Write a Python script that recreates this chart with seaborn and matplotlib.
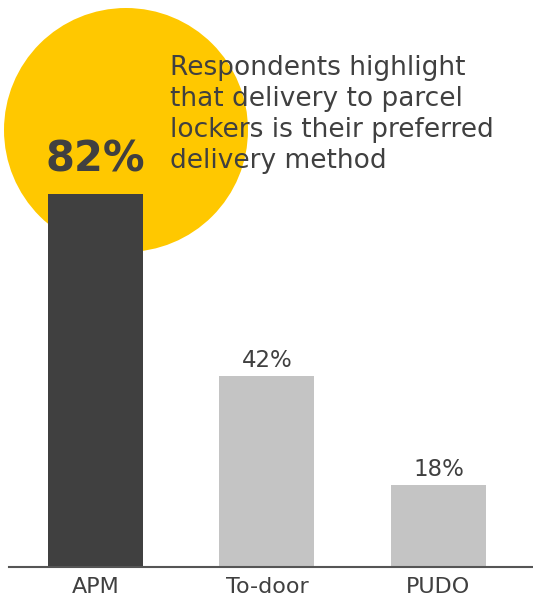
import matplotlib
matplotlib.use("Agg")
import matplotlib.pyplot as plt
from matplotlib.patches import Circle
import seaborn as sns
import pandas as pd

methods = ["APM", "To-door", "PUDO"]
shares = [82, 42, 18]
bar_colors = ["#404040", "#c4c4c4", "#c4c4c4"]
headline = "Respondents highlight\nthat delivery to parcel\nlockers is their preferred\ndelivery method"

sns.set_theme(style="white")
plt.rcParams["font.family"] = ["DejaVu Sans"]
TEXT = "#404040"

df = pd.DataFrame({"method": methods, "share": shares})

fig = plt.figure(figsize=(5.33, 5.96), dpi=100)
ax = fig.add_axes([9 / 533, 29 / 596, 524 / 533, 567 / 596])

# Yellow highlight disc behind the leading bar
disc = Circle((1.26, (596 - 130) / 100), 1.22, transform=fig.dpi_scale_trans,
              facecolor="#ffc800", edgecolor="none", zorder=0, clip_on=False)
ax.add_patch(disc)

sns.barplot(data=df, x="method", y="share", hue="method",
            palette=dict(zip(methods, bar_colors)), legend=False,
            width=0.554, saturation=1, linewidth=0, edgecolor="none",
            ax=ax, zorder=2)

ax.set_xlim(-0.504, 2.551)
ax.set_ylim(0, 124.6)
ax.set_xlabel("")
ax.set_ylabel("")
ax.set_yticks([])
ax.tick_params(axis="x", length=0, pad=7, labelsize=16, labelcolor=TEXT)
for side in ["top", "right", "left"]:
    ax.spines[side].set_visible(False)
ax.spines["bottom"].set_color("#555555")
ax.spines["bottom"].set_linewidth(1.5)
ax.patch.set_alpha(0)

for i, (m, v) in enumerate(zip(methods, shares)):
    if i == 0:
        ax.annotate(f"{v}%", (i, v), xytext=(0, 16), textcoords="offset points",
                    ha="center", va="baseline", fontsize=30, fontweight="bold",
                    color=TEXT, zorder=3)
    else:
        ax.annotate(f"{v}%", (i, v), xytext=(0, 6.5), textcoords="offset points",
                    ha="center", va="baseline", fontsize=16.5,
                    color=TEXT, zorder=3)

fig.text(170 / 533, 1 - 55 / 596, headline, ha="left", va="top",
         fontsize=19, color=TEXT, linespacing=1.25)

fig.savefig("out.png", dpi=100, facecolor="white")
